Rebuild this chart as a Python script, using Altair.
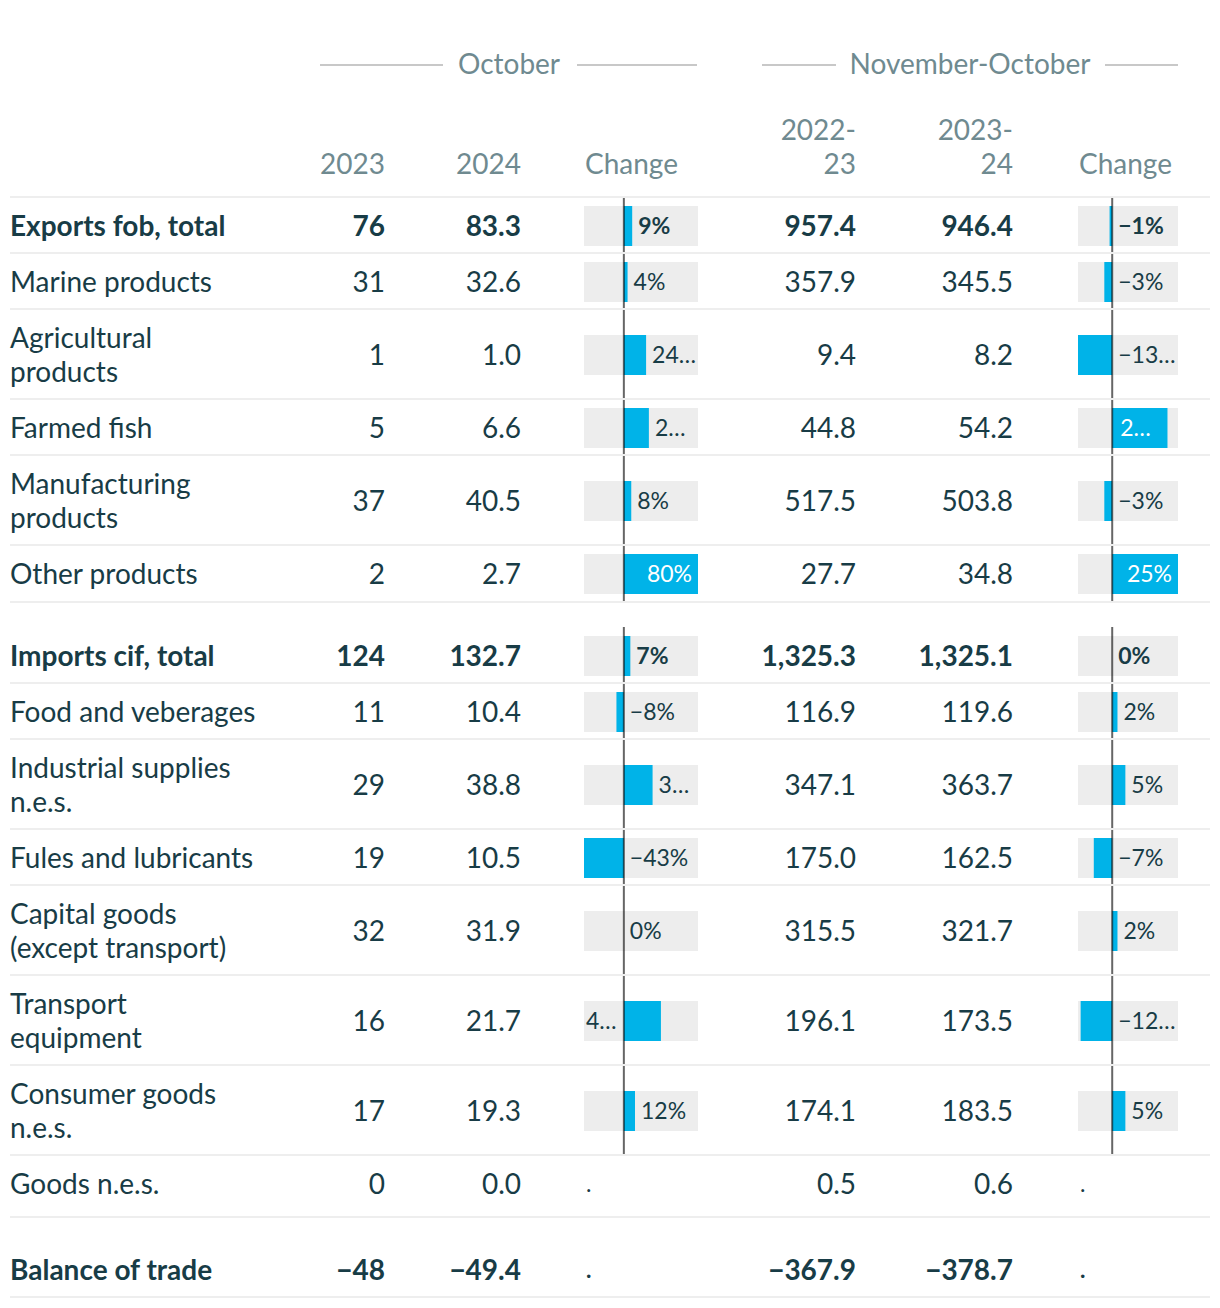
import altair as alt
import pandas as pd

# ---------------- data ----------------
row_labels = [
    "Exports fob, total", "Marine products", "Agricultural\nproducts", "Farmed fish",
    "Manufacturing\nproducts", "Other products", "Imports cif, total", "Food and veberages",
    "Industrial supplies\nn.e.s.", "Fules and lubricants", "Capital goods\n(except transport)",
    "Transport\nequipment", "Consumer goods\nn.e.s.", "Goods n.e.s.", "Balance of trade",
]
is_total = [True, False, False, False, False, False, True, False, False, False, False, False, False, False, True]
oct_2023 = [76, 31, 1, 5, 37, 2, 124, 11, 29, 19, 32, 16, 17, 0, -48]
oct_2024 = [83.3, 32.6, 1.0, 6.6, 40.5, 2.7, 132.7, 10.4, 38.8, 10.5, 31.9, 21.7, 19.3, 0.0, -49.4]
nov_2223 = [957.4, 357.9, 9.4, 44.8, 517.5, 27.7, 1325.3, 116.9, 347.1, 175.0, 315.5, 196.1, 174.1, 0.5, -367.9]
nov_2324 = [946.4, 345.5, 8.2, 54.2, 503.8, 34.8, 1325.1, 119.6, 363.7, 162.5, 321.7, 173.5, 183.5, 0.6, -378.7]
oct_change = [9, 4, 24, 27, 8, 80, 7, -8, 31, -43, 0, 40, 12, None, None]
nov_change = [-1, -3, -13, 21, -3, 25, 0, 2, 5, -7, 2, -12, 5, None, None]
oct_change_label = ["9%", "4%", "24…", "2…", "8%", "80%", "7%", "−8%", "3…", "−43%", "0%", "4…", "12%", ".", "."]
nov_change_label = ["−1%", "−3%", "−13…", "2…", "−3%", "25%", "0%", "2%", "5%", "−7%", "2%", "−12…", "5%", ".", "."]
group_titles = ["October", "November-October"]
col_headers = ["2023", "2024", "Change", "2022-\n23", "2023-\n24", "Change"]

# ---------------- layout / style ----------------
oct_place = ["out", "out", "out", "out", "out", "in", "out", "out", "out", "out", "out", "lft", "out", "lft", "lft"]
nov_place = ["out", "out", "out", "inz", "out", "in", "out", "out", "out", "out", "out", "out", "out", "lft", "lft"]
line_count = [1, 1, 2, 1, 2, 1, 1, 1, 2, 1, 2, 2, 2, 1, 1]
pad_top = [0, 0, 0, 0, 0, 0, 25, 0, 0, 0, 0, 0, 0, 0, 24]
pad_bot = [0, 0, 0, 0, 0, 1, 0, 0, 0, 0, 0, 0, 0, 6, 0]
section = [0] * 6 + [1] * 8 + [2]

FONT = "Lato"
TEXT = "#183c46"
HEAD = "#6f8a90"
BAR = "#00b3e8"
BG = "#ededed"
SEP = "#eeeeee"
GRULE = "#c8c8c8"
FS = 28      # table font size
FS_BAR = 23  # bar label font size
TY = 2       # vertical text nudge

W, H, OFF = 1204, 1292, 8
PY = alt.Scale(domain=[OFF, OFF + H], range=[0, H])
PX = alt.Scale(domain=[OFF, OFF + W], range=[0, W])

recs = []
top = 197
for i in range(len(row_labels)):
    first = top + pad_top[i] + 29
    ymid = first + 17 * (line_count[i] - 1)
    h = pad_top[i] + 56 + 34 * (line_count[i] - 1) + pad_bot[i]
    recs.append(dict(label=row_labels[i], bold=is_total[i], v23=oct_2023[i], v24=oct_2024[i],
                     v2223=nov_2223[i], v2324=nov_2324[i], ytop=top, ycont=top + pad_top[i],
                     yfirst=first + TY, ymid=ymid, ytxt=ymid + TY, ybar=ymid + 1,
                     ybot=top + h, section=section[i]))
    top += h
df = pd.DataFrame(recs)


def text_layers(data, text, x, align, size=FS, color=TEXT, dx=0, y="ytxt"):
    out = []
    for b in [False, True]:
        sub = data[data["bold"] == b]
        if sub.empty:
            continue
        out.append(
            alt.Chart(sub).mark_text(
                align=align, baseline="middle", font=FONT, fontSize=size,
                fontWeight="bold" if b else "normal", color=color, dx=dx,
                lineBreak="\n", lineHeight=34,
            ).encode(x=x, y=alt.Y(f"{y}:Q", scale=PY, axis=None), text=text)
        )
    return out


layers = []

# header group titles and their rules
gdf = pd.DataFrame({"t": group_titles, "cx": [509, 970], "y": [64 + TY, 64 + TY]})
layers.append(
    alt.Chart(gdf).mark_text(align="center", baseline="middle", font=FONT, fontSize=FS, color=HEAD)
    .encode(x=alt.X("cx:Q", scale=PX, axis=None), y=alt.Y("y:Q", scale=PY, axis=None), text="t:N")
)
grdf = pd.DataFrame({"x1": [320, 577, 762, 1105], "x2": [443, 697, 836, 1178], "y": [65] * 4})
layers.append(
    alt.Chart(grdf).mark_rule(color=GRULE, strokeWidth=2)
    .encode(x=alt.X("x1:Q", scale=PX, axis=None), x2="x2:Q", y=alt.Y("y:Q", scale=PY, axis=None))
)

# column headers
hdf = pd.DataFrame({"t": col_headers, "px": [385, 521, 585, 856, 1013, 1079],
                    "y": [164 + TY, 164 + TY, 164 + TY, 130 + TY, 130 + TY, 164 + TY],
                    "al": ["right", "right", "left", "right", "right", "left"]})
for al in ["right", "left"]:
    layers.append(
        alt.Chart(hdf[hdf["al"] == al]).mark_text(
            align=al, baseline="middle", font=FONT, fontSize=FS, color=HEAD,
            lineBreak="\n", lineHeight=34)
        .encode(x=alt.X("px:Q", scale=PX, axis=None), y=alt.Y("y:Q", scale=PY, axis=None), text="t:N")
    )

# change columns
cols = [
    dict(change=oct_change, label=oct_change_label, place=oct_place, dom=[-43, 80], rng=[584, 698]),
    dict(change=nov_change, label=nov_change_label, place=nov_place, dom=[-13, 25], rng=[1078, 1178]),
]
bar_layers, label_layers = [], []
for c in cols:
    xs = alt.Scale(domain=c["dom"], range=[r - OFF for r in c["rng"]], zero=False, nice=False)
    cdf = df[["ymid", "ybar", "ycont", "ybot", "bold", "section"]].copy()
    cdf["value"] = c["change"]
    cdf["lab"] = c["label"]
    cdf["place"] = c["place"]
    cdf["zero"] = 0
    cdf["lo"] = c["dom"][0]
    cdf["hi"] = c["dom"][1]
    cdf["bt"] = cdf["ymid"] - 20
    cdf["bb"] = cdf["ymid"] + 20

    def anchor(r, dom=c["dom"]):
        if r["place"] == "out":
            return max(r["value"], 0)
        if r["place"] == "in":
            return r["value"]
        if r["place"] == "inz":
            return 0
        return dom[0]

    cdf["anchor"] = cdf.apply(anchor, axis=1)
    valid = cdf[cdf["value"].notna()]

    bar_layers.append(
        alt.Chart(valid).mark_rect(color=BG)
        .encode(x=alt.X("lo:Q", scale=xs, axis=None), x2="hi:Q",
                y=alt.Y("bt:Q", scale=PY, axis=None), y2="bb:Q")
    )
    bar_layers.append(
        alt.Chart(valid).mark_rect(color=BAR)
        .encode(x=alt.X("zero:Q", scale=xs, axis=None), x2="value:Q",
                y=alt.Y("bt:Q", scale=PY, axis=None), y2="bb:Q")
    )
    sec = valid.groupby("section").agg(s0=("ycont", "min"), s1=("ybot", "max")).reset_index()
    sec["zero"] = 0
    bar_layers.append(
        alt.Chart(sec).mark_rule(color="#000000", opacity=0.6, strokeWidth=2)
        .encode(x=alt.X("zero:Q", scale=xs, axis=None),
                y=alt.Y("s0:Q", scale=PY, axis=None), y2="s1:Q")
    )
    specs = {"out": ("left", 6, TEXT), "in": ("right", -6, "white"),
             "inz": ("left", 8, "white"), "lft": ("left", 2, TEXT)}
    for p, (al, dx, colr) in specs.items():
        sub = cdf[cdf["place"] == p]
        if sub.empty:
            continue
        label_layers += text_layers(sub, alt.Text("lab:N"), alt.X("anchor:Q", scale=xs, axis=None),
                                    al, size=FS_BAR, color=colr, dx=dx, y="ybar")

# separators
sdf = pd.DataFrame({"y": [197] + list(df["ybot"]), "x1": 10, "x2": 1210})
sep_layer = (
    alt.Chart(sdf).mark_rule(color=SEP, strokeWidth=2)
    .encode(x=alt.X("x1:Q", scale=PX, axis=None), x2="x2:Q", y=alt.Y("y:Q", scale=PY, axis=None))
)

# row texts
text_cols = []
text_cols += text_layers(df, alt.Text("label:N"), alt.value(10 - OFF), "left", y="yfirst")
text_cols += text_layers(df, alt.Text("v23:Q", format=".0f"), alt.value(385 - OFF), "right")
text_cols += text_layers(df, alt.Text("v24:Q", format=".1f"), alt.value(521 - OFF), "right")
text_cols += text_layers(df, alt.Text("v2223:Q", format=",.1f"), alt.value(856 - OFF), "right")
text_cols += text_layers(df, alt.Text("v2324:Q", format=",.1f"), alt.value(1013 - OFF), "right")

chart = (
    alt.layer(*(layers + bar_layers + [sep_layer] + text_cols + label_layers))
    .resolve_scale(x="independent")
    .properties(width=W, height=H, padding=0, autosize="none")
    .configure_view(stroke=None)
)

chart.save("out.html", embed_options={"renderer": "svg", "actions": False})
